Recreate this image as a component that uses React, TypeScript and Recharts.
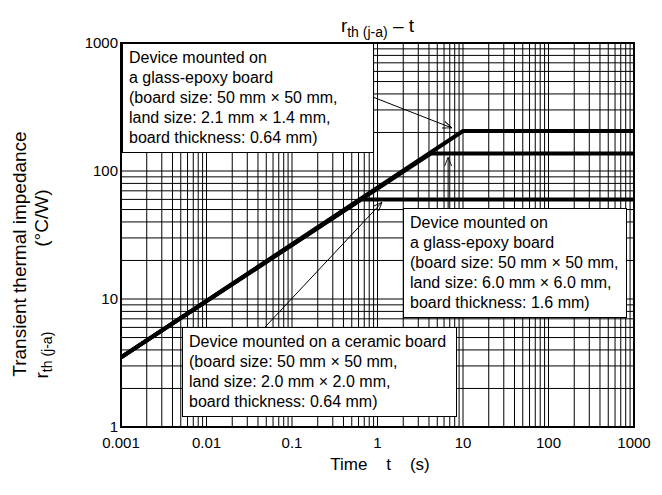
import React from 'react';
import {
  LineChart, Line, XAxis, YAxis, CartesianGrid, ReferenceArea, ReferenceLine,
} from 'recharts';

// Decade ticks (labelled) and the minor steps used for the log grid
const X_DECADES = [0.001, 0.01, 0.1, 1, 10, 100, 1000];
const Y_DECADES = [1, 10, 100, 1000];
const MINOR_STEPS = [1, 2, 3, 4, 5, 6, 7, 8, 9];

// Curves: time t (s) -> rth(j-a) (°C/W)
const GLASS_SMALL_T = [0.001, 10, 1000];
const GLASS_SMALL_R = [3.5, 205, 205];
const GLASS_LARGE_T = [0.001, 4.2, 1000];
const GLASS_LARGE_R = [3.5, 137, 137];
const CERAMIC_T = [0.001, 0.65, 1000];
const CERAMIC_R = [3.5, 60, 60];

// Callout arrows (tail -> head) in data coordinates
const ARROW_TAIL_T = [0.885, 6.7, 0.048];
const ARROW_TAIL_R = [378, 51, 6.0];
const ARROW_HEAD_T = [7.4, 6.7, 1.13];
const ARROW_HEAD_R = [217, 128, 57];

const FONT = '"Liberation Sans", Arial, Helvetica, sans-serif';

const gridValues = (decades: number[]) => {
  const out: number[] = [];
  decades.forEach((d, i) => {
    if (i === decades.length - 1) { out.push(d); return; }
    MINOR_STEPS.forEach((m) => out.push(Number((d * m).toPrecision(6))));
  });
  return out;
};

const X_GRID = gridValues(X_DECADES);
const Y_GRID = gridValues(Y_DECADES);

const toPoints = (ts: number[], rs: number[]) => ts.map((t, i) => ({ t, r: rs[i] }));

const fmtX = (v: number) => (X_DECADES.includes(v) ? String(v) : '');
const fmtY = (v: number) => (Y_DECADES.includes(v) ? String(v) : '');

const boxStyle: React.CSSProperties = {
  position: 'absolute',
  background: '#fff',
  border: '1.5px solid #000',
  fontFamily: FONT,
  fontSize: 16,
  lineHeight: '20px',
  color: '#000',
  padding: '4px 6px',
  whiteSpace: 'nowrap',
  boxSizing: 'border-box',
};

const Callout: React.FC<{ left: number, top: number, width: number, lines: string[] }> = ({ left, top, width, lines }) => (
  <div style={{ ...boxStyle, left, top, width }}>
    {lines.map((l) => <div key={l}>{l}</div>)}
  </div>
);

const rotated: React.CSSProperties = {
  position: 'absolute',
  transform: 'translate(-50%, -50%) rotate(-90deg)',
  fontFamily: FONT,
  fontSize: 19,
  whiteSpace: 'nowrap',
  color: '#000',
};

export default function App() {
  return (
    <div style={{ position: 'absolute', left: 0, top: 0, width: 662, height: 495, background: '#fff' }}>
      <svg width={0} height={0} style={{ position: 'absolute' }}>
        <defs>
          <marker id="arrowHead" viewBox="0 0 10 10" refX={10} refY={5} markerWidth={9} markerHeight={9} orient="auto" markerUnits="userSpaceOnUse">
            <path d="M0,1 L10,5 L0,9" fill="none" stroke="#000" strokeWidth={1} />
          </marker>
        </defs>
      </svg>

      <LineChart width={662} height={495} margin={{ top: 43, right: 28, left: 61, bottom: 38 }}>
        <CartesianGrid stroke="#000" strokeWidth={1} />
        <XAxis
          dataKey="t"
          type="number"
          scale="log"
          domain={[0.001, 1000]}
          ticks={X_GRID}
          interval={0}
          allowDataOverflow
          tickFormatter={fmtX}
          axisLine={false}
          tickLine={false}
          tickSize={0}
          tickMargin={10}
          height={30}
          tick={{ fill: '#000', fontSize: 15, fontFamily: FONT }}
        />
        <YAxis
          dataKey="r"
          type="number"
          scale="log"
          domain={[1, 1000]}
          ticks={Y_GRID}
          interval={0}
          allowDataOverflow
          tickFormatter={fmtY}
          axisLine={false}
          tickLine={false}
          tickSize={0}
          tickMargin={3}
          width={60}
          tick={{ fill: '#000', fontSize: 15, fontFamily: FONT }}
        />
        <ReferenceArea x1={0.001} x2={1000} y1={1} y2={1000} fill="none" stroke="#000" strokeWidth={2} />

        <Line data={toPoints(GLASS_SMALL_T, GLASS_SMALL_R)} dataKey="r" type="linear" stroke="#000" strokeWidth={4} dot={false} activeDot={false} isAnimationActive={false} />
        <Line data={toPoints(GLASS_LARGE_T, GLASS_LARGE_R)} dataKey="r" type="linear" stroke="#000" strokeWidth={4} dot={false} activeDot={false} isAnimationActive={false} />
        <Line data={toPoints(CERAMIC_T, CERAMIC_R)} dataKey="r" type="linear" stroke="#000" strokeWidth={4} dot={false} activeDot={false} isAnimationActive={false} />

        {ARROW_TAIL_T.map((t, i) => (
          <ReferenceLine
            key={i}
            segment={[{ x: t, y: ARROW_TAIL_R[i] }, { x: ARROW_HEAD_T[i], y: ARROW_HEAD_R[i] }]}
            stroke="#000"
            strokeWidth={1}
            markerEnd="url(#arrowHead)"
            ifOverflow="visible"
          />
        ))}
      </LineChart>

      {/* title */}
      <div style={{ position: 'absolute', left: 0, width: 755, top: 15, textAlign: 'center', fontFamily: FONT, fontSize: 19, color: '#000' }}>
        r<sub style={{ fontSize: 14 }}>th (j-a)</sub> – t
      </div>

      {/* axis titles */}
      <div style={{ position: 'absolute', left: 0, width: 760, top: 455, textAlign: 'center', fontFamily: FONT, fontSize: 17, color: '#000', whiteSpace: 'pre' }}>
        {'Time    t    (s)'}
      </div>
      <div style={{ position: 'absolute', left: 20, top: 254, width: 0, height: 0 }}>
        <div style={rotated}>Transient thermal impedance</div>
      </div>
      <div style={{ position: 'absolute', left: 43, top: 284, width: 0, height: 0 }}>
        <div style={rotated}>
          r<sub style={{ fontSize: 14 }}>th (j-a)</sub>
          <span style={{ display: 'inline-block', width: 85 }} />
          (°C/W)
        </div>
      </div>

      <Callout left={122} top={43} width={252} lines={['Device mounted on', 'a glass-epoxy board', '(board size: 50 mm × 50 mm,', 'land size: 2.1 mm × 1.4 mm,', 'board thickness: 0.64 mm)']} />
      <Callout left={403} top={208} width={224} lines={['Device mounted on', 'a glass-epoxy board', '(board size: 50 mm × 50 mm,', 'land size: 6.0 mm × 6.0 mm,', 'board thickness: 1.6 mm)']} />
      <Callout left={182} top={327} width={275} lines={['Device mounted on a ceramic board', '(board size: 50 mm × 50 mm,', 'land size: 2.0 mm × 2.0 mm,', 'board thickness: 0.64 mm)']} />
    </div>
  );
}
